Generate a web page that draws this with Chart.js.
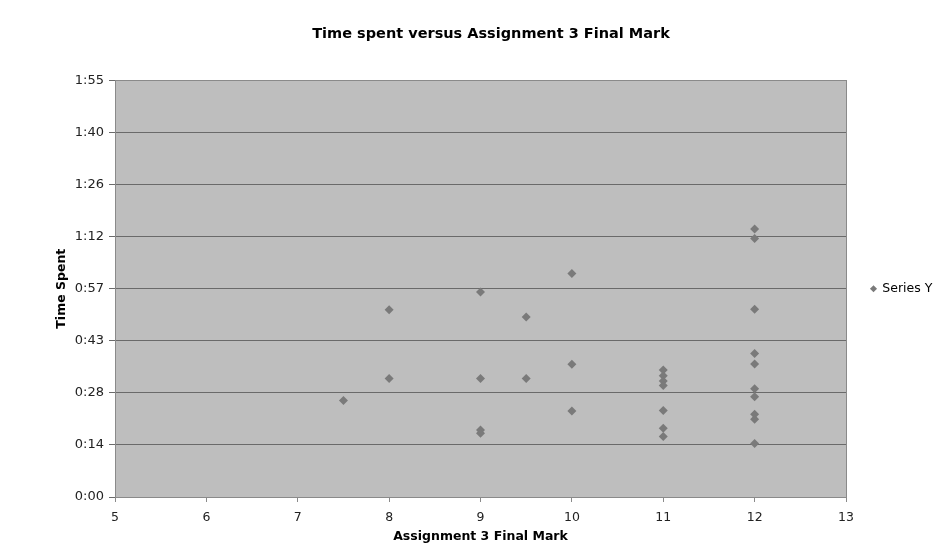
<!DOCTYPE html>
<html>
<head>
<meta charset="utf-8">
<script src="https://cdn.jsdelivr.net/npm/chart.js@4/dist/chart.umd.min.js"></script>
<style>
  html, body { margin: 0; padding: 0; background: #ffffff; }
  #wrap { width: 938px; height: 547px; position: relative; }
</style>
</head>
<body>
<div id="wrap"><canvas id="c" width="938" height="547"></canvas></div>
<script>
// ---- data (time spent in minutes vs final mark) ----
const chartTitle = 'Time spent versus Assignment 3 Final Mark';
const seriesName = 'Series Y';
const xAxisTitle = 'Assignment 3 Final Mark';
const yAxisTitle = 'Time Spent';
const marks = [7.5, 8, 8, 9, 9, 9, 9, 9.5, 9.5, 10, 10, 10,
               11, 11, 11, 11, 11, 11, 11,
               12, 12, 12, 12, 12, 12, 12, 12, 12, 12];
const minutesSpent = [26.7, 51.8, 32.8, 56.7, 32.8, 18.5, 17.6, 49.8, 32.8, 61.8, 36.7, 23.8,
                      35.1, 33.5, 32.1, 30.8, 23.9, 19.0, 16.7,
                      74.1, 71.5, 51.9, 39.7, 36.8, 29.9, 27.7, 22.9, 21.5, 14.8];
const xTickLabels = ['5', '6', '7', '8', '9', '10', '11', '12', '13'];
const yTickLabels = ['0:00', '0:14', '0:28', '0:43', '0:57', '1:12', '1:26', '1:40', '1:55'];
const yStepMinutes = 14.4;

const points = marks.map((m, i) => ({ x: m, y: minutesSpent[i] }));

const plotBg = {
  id: 'plotBg',
  beforeDraw(chart) {
    const { ctx, chartArea: a } = chart;
    ctx.save();
    ctx.fillStyle = '#bebebe';
    ctx.fillRect(a.left, a.top, a.right - a.left, a.bottom - a.top);
    ctx.restore();
  },
  afterDraw(chart) {
    const { ctx, chartArea: a } = chart;
    ctx.save();
    ctx.strokeStyle = '#8a8a8a';
    ctx.lineWidth = 1;
    ctx.strokeRect(Math.round(a.left) + 0.5, Math.round(a.top) + 0.5,
                   Math.round(a.right - a.left), Math.round(a.bottom - a.top));
    ctx.restore();
  }
};

const legendWidth = {
  id: 'legendWidth',
  beforeLayout(chart) {
    const lg = chart.legend;
    if (lg && !lg._patched) {
      const orig = lg.fit.bind(lg);
      lg.fit = function () { orig(); this.width = 92; };
      lg._patched = true;
    }
  }
};

const FONT = "'DejaVu Sans', Verdana, sans-serif";

new Chart(document.getElementById('c'), {
  type: 'scatter',
  data: {
    datasets: [{
      label: seriesName,
      data: points,
      pointStyle: 'rectRot',
      radius: 4.5,
      hoverRadius: 4.5,
      backgroundColor: '#7a7a7a',
      borderColor: '#7a7a7a',
      borderWidth: 0
    }]
  },
  options: {
    responsive: false,
    animation: false,
    devicePixelRatio: 1,
    layout: { padding: { left: 44, right: 0, top: 0, bottom: 0 } },
    plugins: {
      title: {
        display: true,
        text: chartTitle,
        color: '#000',
        font: { family: FONT, size: 14.5, weight: 'bold' },
        padding: { top: 26, bottom: 37 }
      },
      legend: {
        display: true,
        position: 'right',
        align: 'center',
        fullSize: false,
        labels: {
          usePointStyle: true,
          pointStyle: 'rectRot',
          boxWidth: 5,
          boxHeight: 5,
          color: '#000',
          font: { family: FONT, size: 12.5 },
          padding: 25
        }
      },
      tooltip: { enabled: false }
    },
    scales: {
      x: {
        type: 'linear',
        min: 5, max: 13,
        ticks: {
          stepSize: 1,
          color: '#222',
          font: { family: FONT, size: 12.5 },
          padding: 8,
          callback: (v, i) => xTickLabels[i]
        },
        grid: {
          display: true,
          drawOnChartArea: false,
          drawTicks: true,
          tickLength: 5,
          color: '#8a8a8a'
        },
        border: { display: true, color: '#8a8a8a' },
        title: {
          display: true,
          text: xAxisTitle,
          color: '#000',
          font: { family: FONT, size: 12.5, weight: 'bold' },
          padding: { top: 0, bottom: 3 }
        },
        afterFit(s) { s.height = 50; }
      },
      y: {
        type: 'linear',
        min: 0, max: yStepMinutes * (yTickLabels.length - 1),
        afterBuildTicks(s) {
          s.ticks = yTickLabels.map((_, i) => ({ value: i * yStepMinutes }));
        },
        ticks: {
          color: '#222',
          font: { family: FONT, size: 13 },
          padding: 5,
          callback: (v, i) => yTickLabels[i]
        },
        grid: {
          display: true,
          drawOnChartArea: true,
          drawTicks: true,
          tickLength: 6,
          color: '#6a6a6a',
          lineWidth: 1
        },
        border: { display: true, color: '#8a8a8a' },
        title: {
          display: true,
          text: yAxisTitle,
          color: '#000',
          font: { family: FONT, size: 12.5, weight: 'bold' },
          padding: { top: 10, bottom: 4 }
        },
        afterFit(s) { s.width = 71; }
      }
    }
  },
  plugins: [plotBg, legendWidth]
});
</script>
</body>
</html>
